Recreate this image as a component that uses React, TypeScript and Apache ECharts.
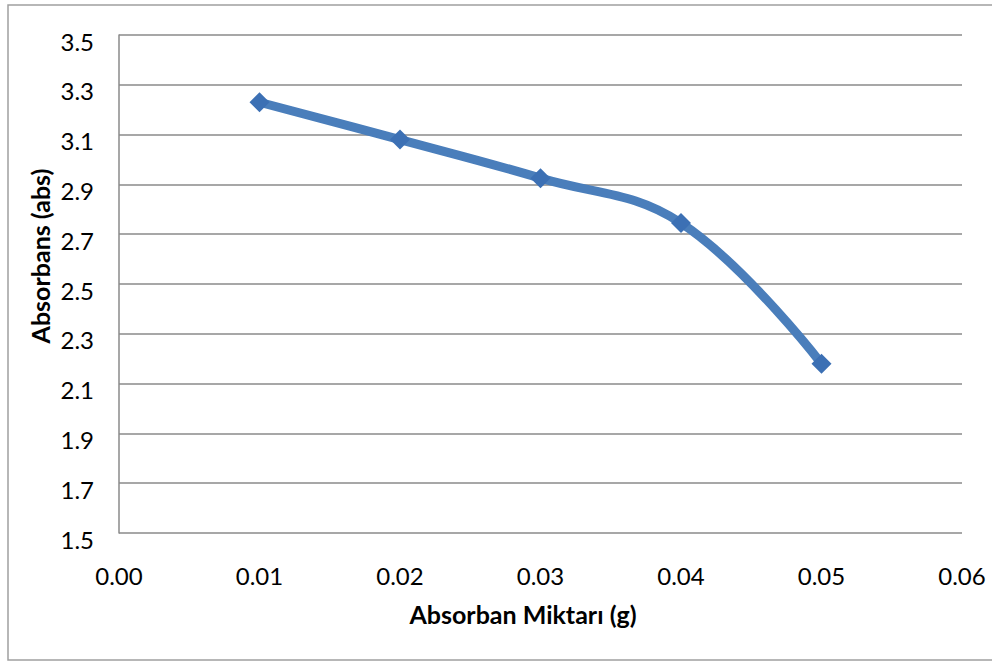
import React, { useEffect, useRef } from "react";
import * as echarts from "echarts";

const amounts: number[] = [0.01, 0.02, 0.03, 0.04, 0.05];
const absorbance: number[] = [3.23, 3.08, 2.925, 2.745, 2.18];
const xTitle = "Absorban Miktarı (g)";
const yTitle = "Absorbans (abs)";

export default function App() {
  const ref = useRef<HTMLDivElement>(null);
  useEffect(() => {
    if (!ref.current) return;
    const chart = echarts.init(ref.current, null, { renderer: "svg" });
    const font = "Lato, 'Open Sans', sans-serif";
    const gridColor = "#8a8a8a";
    chart.setOption({
      animation: false,
      backgroundColor: "#ffffff",
      grid: { left: 119, right: 30, top: 35, bottom: 128, containLabel: false },
      xAxis: {
        type: "value",
        min: 0,
        max: 0.06,
        interval: 0.01,
        axisLine: { show: false },
        axisTick: { show: false },
        splitLine: { show: false },
        axisLabel: {
          margin: 30,
          fontFamily: font,
          fontSize: 24,
          color: "#000",
          formatter: (v: number) => v.toFixed(2),
        },
      },
      yAxis: {
        type: "value",
        min: 1.5,
        max: 3.5,
        interval: 0.2,
        axisLine: { show: true, lineStyle: { color: gridColor, width: 1.5 } },
        axisTick: { show: false },
        splitLine: { show: true, lineStyle: { color: gridColor, width: 1.5 } },
        axisLabel: {
          margin: 25,
          fontFamily: font,
          fontSize: 24,
          color: "#000",
          verticalAlign: "top",
          lineHeight: 12,
          formatter: (v: number) => v.toFixed(1),
        },
      },
      series: [
        {
          type: "line",
          data: amounts.map((x, i) => [x, absorbance[i]]),
          smooth: 0.4,
          lineStyle: { color: "#4A7EBB", width: 9 },
          symbol: "diamond",
          symbolSize: 20,
          itemStyle: { color: "#3C70B4", borderWidth: 0 },
        },
      ],
      graphic: [
        {
          type: "rect",
          shape: { x: 8, y: 5, width: 1000, height: 655 },
          style: { fill: "none", stroke: "#a0a0a0", lineWidth: 1.5 },
          silent: true,
        },
        {
          type: "text",
          x: 523,
          y: 614,
          style: {
            text: xTitle,
            font: `bold 25px ${font}`,
            fill: "#000",
            align: "center",
            verticalAlign: "middle",
          },
        },
        {
          type: "text",
          x: 40,
          y: 256,
          rotation: Math.PI / 2,
          style: {
            text: yTitle,
            font: `bold 25px ${font}`,
            fill: "#000",
            align: "center",
            verticalAlign: "middle",
          },
        },
      ],
    });
    return () => chart.dispose();
  }, []);
  return (
    <div
      ref={ref}
      style={{ position: "fixed", left: 0, top: 0, width: 992, height: 661 }}
    />
  );
}
